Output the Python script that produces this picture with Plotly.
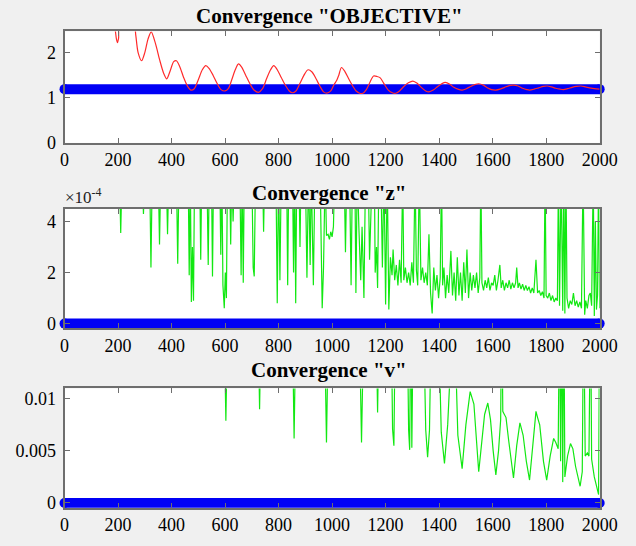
import plotly.graph_objects as go

# ---------------- data ----------------
x_tick_vals = [0, 200, 400, 600, 800, 1000, 1200, 1400, 1600, 1800, 2000]
x_tick_text = ["0", "200", "400", "600", "800", "1000", "1200", "1400", "1600", "1800", "2000"]

# reference (target) levels drawn as thick blue lines
obj_target = 1.19
z_target = 0.0
v_target = 0.0
target_x = [0, 2000]

# Convergence "OBJECTIVE" (red)
obj_x = [185, 190, 194, 198, 202, 206, 260, 266, 275, 288, 300, 312, 324, 340, 355, 370, 382, 395, 408, 418,
         430, 445, 460, 472, 485, 500, 515, 528, 540, 555, 570, 585, 600, 612, 625, 638, 650, 662, 677, 692,
         708, 725, 740, 755, 770, 782, 795, 810, 825, 840, 852, 865, 880, 895, 910, 925, 940, 955, 968, 980,
         995, 1008, 1017, 1025, 1035, 1048, 1062, 1076, 1090, 1103, 1115, 1128, 1142, 1155, 1168, 1180, 1195,
         1210, 1225, 1238, 1252, 1268, 1285, 1302, 1318, 1335, 1350, 1362, 1378, 1395, 1410, 1423, 1440, 1455,
         1470, 1486, 1502, 1518, 1533, 1548, 1565, 1580, 1596, 1612, 1628, 1645, 1662, 1678, 1695, 1712, 1728,
         1738, 1755, 1772, 1790, 1804, 1820, 1836, 1852, 1864, 1880, 1897, 1913, 1930, 1947, 1962, 1980, 2000]
obj_y = [2.7, 2.48, 2.3, 2.22, 2.32, 2.55, 2.6, 2.4, 2.0, 1.82, 2.0, 2.3, 2.46, 2.2, 1.85, 1.55, 1.42, 1.6, 1.8, 1.82,
         1.7, 1.45, 1.25, 1.17, 1.2, 1.4, 1.62, 1.71, 1.65, 1.5, 1.32, 1.18, 1.15, 1.2, 1.4, 1.62, 1.75, 1.68, 1.5, 1.32,
         1.17, 1.12, 1.2, 1.42, 1.62, 1.71, 1.62, 1.45, 1.28, 1.15, 1.11, 1.15, 1.32, 1.5, 1.62, 1.57, 1.42, 1.25, 1.13, 1.1,
         1.15, 1.3, 1.38, 1.5, 1.67, 1.58, 1.42, 1.27, 1.15, 1.1, 1.1, 1.18, 1.35, 1.48, 1.47, 1.44, 1.3,
         1.17, 1.11, 1.1, 1.15, 1.25, 1.33, 1.37, 1.32, 1.22, 1.15, 1.13, 1.17, 1.25, 1.31, 1.34, 1.3, 1.23,
         1.19, 1.17, 1.2, 1.25, 1.29, 1.31, 1.28, 1.22, 1.18, 1.17, 1.19, 1.23, 1.27, 1.28, 1.26, 1.21, 1.18,
         1.17, 1.19, 1.22, 1.25, 1.26, 1.24, 1.21, 1.19, 1.18, 1.2, 1.23, 1.25, 1.26, 1.24, 1.22, 1.2, 1.19]

# Convergence "z" (green), values in units of 1e-4 (6 = off the top of the axis)
z_x = [0, 205, 210, 215, 290, 295, 300, 318, 323, 328, 350, 355, 360, 380, 385, 390, 418, 423, 428,
       462, 466, 470, 474, 478, 482, 486, 505, 509, 513, 532, 537, 541, 549, 553, 557, 580, 584, 588,
       592, 597, 601, 605, 609, 617, 621, 625, 630, 635,
       655, 660, 664, 668, 672, 700, 705, 709, 714, 740, 744, 748, 790, 795, 800, 805, 810, 830, 834, 838,
       852, 856, 860, 864, 868, 876, 880, 884, 900, 906, 912, 918, 922, 930, 936, 955, 963, 968, 974,
       979, 985, 990, 995, 1000, 1005, 1010,
       1045, 1050, 1055, 1065, 1071, 1076, 1085, 1089, 1094, 1100, 1107, 1112, 1119, 1125, 1135, 1140,
       1145, 1150, 1158, 1161, 1166, 1170, 1175, 1182, 1188, 1194, 1200, 1206, 1212, 1218, 1224,
       1228, 1234, 1240, 1246, 1252, 1258, 1264, 1268, 1274, 1280, 1286, 1292, 1298, 1304, 1310, 1315,
       1320, 1326, 1332, 1338, 1344, 1350, 1356, 1362, 1368, 1374, 1380, 1386, 1392, 1398, 1404, 1409,
       1413, 1418, 1424, 1430, 1436, 1444, 1450, 1456, 1462, 1468, 1474, 1480, 1486, 1492, 1498, 1504,
       1510, 1516, 1522, 1528, 1534, 1540, 1546, 1552, 1556, 1560, 1566, 1572, 1578, 1584, 1590, 1596,
       1602, 1608, 1614, 1620, 1627, 1632, 1638, 1644, 1650, 1656, 1662, 1668, 1674, 1680, 1686, 1690,
       1695, 1700, 1706, 1712, 1718, 1724, 1730, 1736, 1742, 1748, 1754, 1762, 1768, 1774, 1780, 1786,
       1792, 1796, 1800, 1806, 1812, 1818, 1824, 1830, 1836, 1842, 1846, 1850, 1856, 1862, 1866, 1870,
       1874, 1878, 1884, 1890, 1896, 1902, 1908, 1914, 1920, 1926, 1932, 1938, 1944, 1948, 1954, 1960,
       1965, 1970, 1976, 1980, 1984, 1988, 1992, 1996, 2000]
z_e4 = [6, 6, 3.55, 6, 6, 4.3, 6, 6, 2.2, 6, 6, 3.1, 6, 6, 3.5, 6, 6, 2.35, 6,
        6, 1.9, 6, 0.85, 3.0, 0.9, 6, 6, 2.5, 6, 6, 2.3, 6, 6, 1.85, 6, 6, 2.7, 6,
        1.5, 0.6, 2.0, 1.0, 6, 6, 3.1, 6, 4.0, 6,
        6, 1.9, 6, 1.6, 6, 6, 2.2, 1.85, 6, 6, 3.6, 6, 6, 0.8, 6, 1.7, 6, 6, 1.5, 6,
        6, 2.0, 6, 0.8, 6, 6, 3.0, 6, 6, 1.8, 6, 2.3, 6, 1.5, 6, 6, 0.6, 2.2, 6,
        3.45, 3.5, 3.3, 3.6, 3.4, 3.8, 6,
        6, 2.8, 6, 6, 1.5, 6, 6, 1.2, 6, 3.8, 1.7, 3.8, 1.0, 6, 6, 2.5,
        3.5, 6, 6, 2.0, 3.0, 1.4, 6, 6, 2.2, 6, 0.75, 6, 0.55, 2.6, 1.9,
        2.9, 1.7, 2.3, 1.5, 2.5, 1.6, 6, 1.7, 2.2, 1.6, 2.0, 1.5, 2.4, 1.6, 6, 2.1,
        1.5, 6, 1.7, 2.2, 1.6, 2.0, 1.5, 3.5, 1.2, 0.4, 2.2, 1.3, 1.9, 1.0, 1.8, 6,
        1.5, 2.2, 1.0, 1.9, 1.2, 2.85, 1.1, 2.0, 0.9, 2.6, 1.1, 2.0, 0.9, 2.4, 1.2, 2.9,
        1.0, 2.0, 1.3, 1.9, 1.4, 2.0, 1.2, 1.8, 6, 1.6, 1.3, 1.7, 1.4, 1.8, 1.3, 1.6,
        1.5, 1.9, 1.3, 1.7, 2.3, 1.4, 1.7, 1.3, 1.6, 1.4, 1.7, 1.35, 1.6, 1.4, 1.6, 2.2,
        1.4, 1.6, 1.35, 1.55, 1.3, 1.5, 1.3, 1.45, 1.2, 1.4, 1.2, 2.5, 1.2, 1.3, 1.1, 1.25,
        1.0, 6, 1.1, 1.0, 1.2, 0.9, 1.1, 0.85, 1.0, 0.9, 6, 0.7, 6, 0.5, 6, 0.4,
        6, 1.0, 0.6, 0.9, 0.75, 1.2, 0.7, 0.9, 0.65, 0.85, 0.6, 6, 0.35, 0.9, 0.6, 1.1,
        1.2, 0.7, 6, 0.3, 4.0, 0.55, 1.1, 6, 0.6]

# Convergence "v" (green), 0.02 = off the top of the axis
v_x = [0, 595, 603, 611, 722, 729, 736, 850, 858, 866, 970, 979, 988, 1100, 1110, 1120, 1163, 1170, 1177,
       1220, 1226, 1231, 1237, 1280, 1286, 1290, 1294, 1298, 1304, 1340, 1350, 1357, 1364, 1372,
       1395, 1408, 1420, 1432, 1440, 1455, 1470, 1486, 1500, 1516, 1530, 1540, 1548, 1556, 1570, 1582,
       1592, 1602, 1612, 1622, 1630, 1634, 1638, 1642, 1650, 1660, 1678, 1690, 1702, 1714, 1726, 1738,
       1750, 1762, 1768, 1776, 1790, 1802, 1815, 1828, 1836, 1845, 1850, 1854, 1858, 1862, 1866, 1870,
       1880, 1891, 1900, 1910, 1927, 1935, 1940, 1946, 1954, 1960, 1966, 1970, 1980, 1990, 1996, 2000]
v_y = [0.02, 0.02, 0.0079, 0.02, 0.02, 0.009, 0.02, 0.02, 0.0062, 0.02, 0.02, 0.0058, 0.02, 0.02, 0.0058, 0.02,
       0.02, 0.0087, 0.02,
       0.02, 0.0071, 0.0055, 0.02, 0.02, 0.007, 0.0051, 0.02, 0.0053, 0.02, 0.02, 0.007, 0.0044, 0.007, 0.02,
       0.02, 0.0068, 0.0038, 0.0075, 0.02, 0.02, 0.0065, 0.0033, 0.0075, 0.0107, 0.0095, 0.006, 0.003, 0.005,
       0.0085, 0.0096,
       0.008, 0.005, 0.0027, 0.005, 0.008, 0.02, 0.0088, 0.0086, 0.0082, 0.006, 0.0024, 0.0055, 0.0077, 0.0065,
       0.004, 0.0022,
       0.0055, 0.0088, 0.0082, 0.0075, 0.004, 0.0022, 0.0045, 0.0062, 0.0058, 0.0052, 0.02, 0.004, 0.02, 0.002,
       0.02, 0.0025,
       0.0045, 0.0057, 0.0052, 0.0035, 0.0016, 0.003, 0.02, 0.0045, 0.0048, 0.0045, 0.02, 0.0042, 0.0025, 0.0013,
       0.0008, 0.02]

# ---------------- figure ----------------
W, H = 636, 546
SERIF = "Liberation Serif, Times New Roman, serif"
BLUE = "#0000f5"
GREEN = "#12e812"
RED = "#ff2a2a"
FRAME = "#6e6e6e"

fig = go.Figure()

z_vals = [v * 1e-4 for v in z_e4]

panels = [
    ("x", "y", obj_target, obj_x, obj_y, RED, "spline"),
    ("x2", "y2", z_target, z_x, z_vals, GREEN, "linear"),
    ("x3", "y3", v_target, v_x, v_y, GREEN, "linear"),
]
for xa, ya, tgt, dx, dy, col, shape in panels:
    fig.add_trace(go.Scatter(x=target_x, y=[tgt, tgt], mode="lines+markers",
                             line=dict(color=BLUE, width=10),
                             marker=dict(color=BLUE, size=10),
                             cliponaxis=False, xaxis=xa, yaxis=ya, showlegend=False,
                             hoverinfo="skip"))
    fig.add_trace(go.Scatter(x=dx, y=dy, mode="lines",
                             line=dict(color=col, width=1.2, shape=shape, smoothing=0.8),
                             xaxis=xa, yaxis=ya, showlegend=False))

xdom = [62.7 / W, 617 / W]
# panels 2 and 3: plot box extends 5 px below zero so the thick zero line is not clipped
ydoms = [
    [1 - 145.5 / H, 1 - 32 / H],
    [1 - 334.6 / H, 1 - 212.7 / H],
    [1 - 517.3 / H, 1 - 395.7 / H],
]

axis_common = dict(
    showline=True, linecolor=FRAME, linewidth=2, mirror="allticks",
    ticks="inside", ticklen=5, tickcolor=FRAME, tickwidth=1,
    showgrid=False, zeroline=False,
    tickfont=dict(family=SERIF, size=18, color="black"),
)

yranges = [[0, 2.47], [-0.19e-4, 4.5e-4], [-0.00047, 0.011]]
ytickvals = [[0, 1, 2], [0, 2e-4, 4e-4], [0, 0.005, 0.01]]
yticktext = [["0", "1", "2"], ["0", "2", "4"], ["0", "0.005", "0.01"]]

layout = dict(
    width=W, height=H,
    margin=dict(l=0, r=0, t=0, b=0),
    paper_bgcolor="#f0f0f0", plot_bgcolor="white",
    showlegend=False,
)
for i in range(3):
    sx = "" if i == 0 else str(i + 1)
    layout["xaxis" + sx] = dict(axis_common, domain=xdom, range=[0, 2000],
                                tickvals=x_tick_vals, ticktext=x_tick_text,
                                anchor="y" + sx)
    layout["yaxis" + sx] = dict(axis_common, domain=ydoms[i], range=yranges[i],
                                tickvals=ytickvals[i], ticktext=yticktext[i],
                                anchor="x" + sx, ticklabelstandoff=3)
fig.update_layout(**layout)

titles = ['Convergence "OBJECTIVE"', 'Convergence "z"', 'Convergence "v"']
title_y = [16, 197, 377]
for t, ty in zip(titles, title_y):
    fig.add_annotation(text="<b>" + t + "</b>", xref="paper", yref="paper",
                       x=337 / W, y=1 - ty / H, xanchor="center", yanchor="middle",
                       showarrow=False, font=dict(family=SERIF, size=21, color="black"))

fig.add_annotation(text="×10<sup>-4</sup>", xref="paper", yref="paper",
                   x=61 / W, y=1 - 200 / H, xanchor="left", yanchor="middle",
                   showarrow=False, font=dict(family=SERIF, size=17, color="#222222"))

fig.write_html("out.html")
